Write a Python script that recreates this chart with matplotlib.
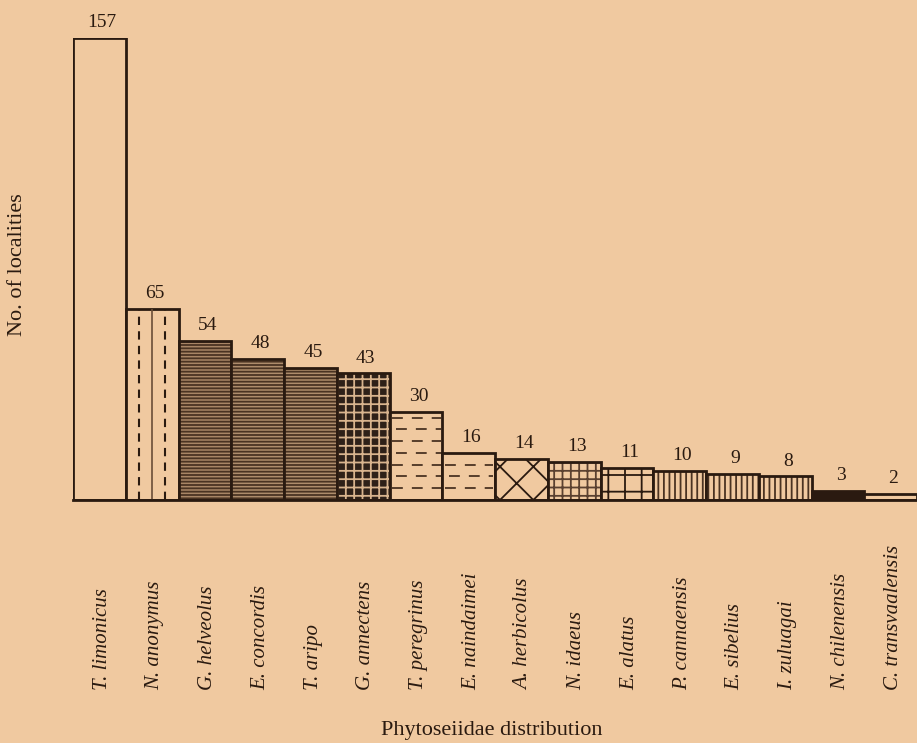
from matplotlib import pyplot as plt
from matplotlib.transforms import blended_transform_factory
import numpy as np

species = ['T. limonicus', 'N. anonymus', 'G. helveolus', 'E. concordis', 'T. aripo',
           'G. annectens', 'T. peregrinus', 'E. naindaimei', 'A. herbicolus', 'N. idaeus',
           'E. alatus', 'P. cannaensis', 'E. sibelius', 'I. zuluagai', 'N. chilenensis',
           'C. transvaalensis']
localities = [157, 65, 54, 48, 45, 43, 30, 16, 14, 13, 11, 10, 9, 8, 3, 2]

paper = '#F0C9A0'
ink = '#2a1a10'

plt.rcParams['font.family'] = ['Liberation Serif', 'DejaVu Serif']
plt.rcParams['hatch.linewidth'] = 1.3

fig = plt.figure(figsize=(9.17, 7.43), dpi=100, facecolor=paper)
ax = fig.add_axes([73 / 917, 243 / 743, 844 / 917, 462 / 743])
ax.set_facecolor(paper)

x = np.arange(len(localities))
w = 1.0

# fill styles per bar: (facecolor, hatch colour, hatch)
styles = [
    (paper, ink, ''),            # limonicus
    (paper, ink, ''),            # anonymus (lines drawn below)
    ('#A88565', '#4a3322', '-----'),
    ('#AE8C6B', '#4a3322', '-----'),
    ('#AE8C6B', '#4a3322', '-----'),
    ('#2e2018', '#D9B48E', '++'),
    (paper, ink, ''),            # peregrinus (dashes below)
    (paper, ink, ''),            # naindaimei (dashes below)
    (paper, ink, 'x'),
    (paper, '#5a4030', '++'),
    (paper, ink, '+'),
    (paper, '#4a3322', '|||'),
    (paper, '#4a3322', '|||'),
    (paper, '#4a3322', '|||'),
    (ink, ink, ''),
    (paper, ink, ''),
]

for i, (v, (fc, hc, h)) in enumerate(zip(localities, styles)):
    ax.bar(x[i], v, width=w, align='edge', color=fc, edgecolor=hc, hatch=h, linewidth=0)
    ax.bar(x[i], v, width=w, align='edge', color='none', edgecolor=ink, linewidth=2)

# N. anonymus: solid centre line, dashed quarter lines
i = species.index('N. anonymus')
ax.vlines(x[i] + 0.5, 0, localities[i], color='#6a4e38', lw=1.2)
ax.vlines([x[i] + 0.25, x[i] + 0.75], 0, localities[i], color=ink, lw=1.5,
          linestyles=(0, (4, 3)))

# dashed horizontal fills
for name in ['T. peregrinus', 'E. naindaimei']:
    i = species.index(name)
    for k, yy in enumerate(np.arange(4, localities[i], 4)):
        off = 0.08 if k % 2 else 0.0
        ax.hlines(yy, x[i] + 0.05 + off, x[i] + 0.97, color='#4a3322', lw=1.3,
                  linestyles=(0, (6, 5)))

for xi, v in zip(x, localities):
    ax.annotate(str(v), (xi + 0.55, v), xytext=(0, 5), textcoords='offset points',
                ha='center', va='bottom', fontsize=14, color=ink)

ax.set_xlim(0, len(localities))
ax.set_ylim(0, 157)
for s in ['top', 'right', 'left']:
    ax.spines[s].set_visible(False)
ax.spines['bottom'].set_linewidth(2)
ax.spines['bottom'].set_color(ink)
ax.set_xticks([])
ax.set_yticks([])

trans = blended_transform_factory(ax.transData, fig.transFigure)
for xi, name in zip(x, species):
    ax.text(xi + 0.55, 53 / 743, name, transform=trans, rotation=90, ha='center',
            va='bottom', fontsize=15, fontstyle='italic', color=ink)

fig.text(492 / 917, 1 - 731 / 743, 'Phytoseiidae distribution', ha='center', va='center',
         fontsize=16, color=ink)
fig.text(18 / 917, 1 - 265 / 743, 'No. of localities', rotation=90, ha='center',
         va='center', fontsize=16, color=ink)

plt.savefig('out.png', dpi=100, facecolor=paper)
